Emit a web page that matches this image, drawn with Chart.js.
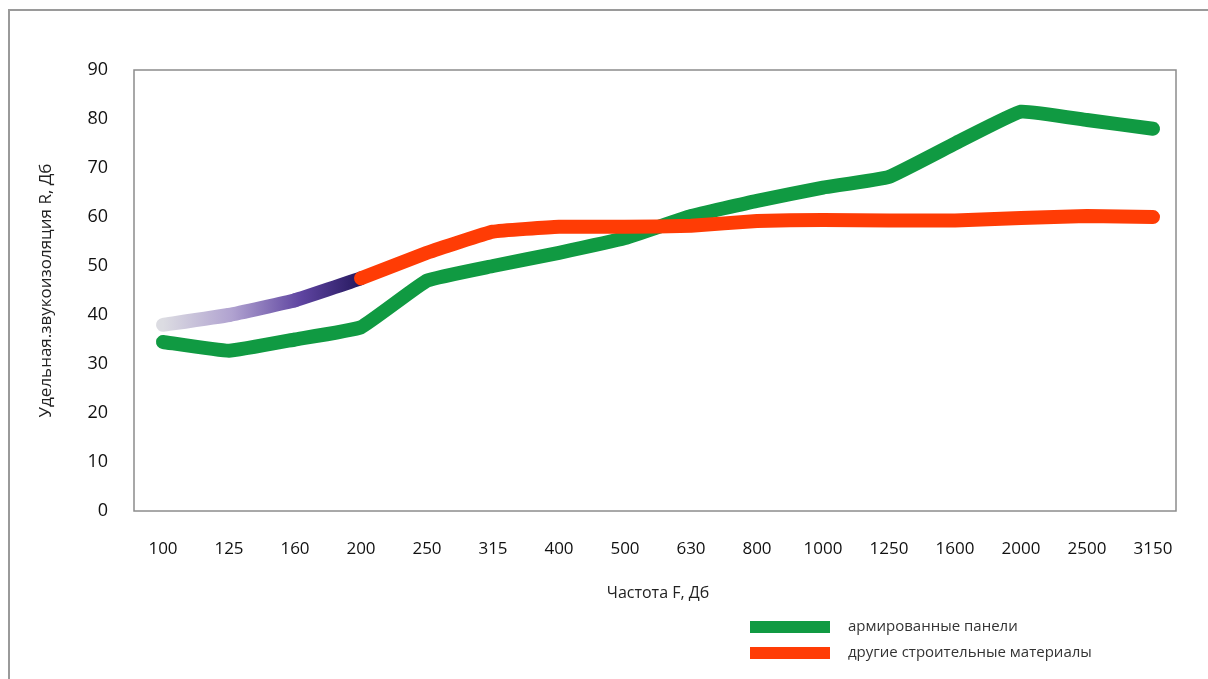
<!DOCTYPE html>
<html>
<head>
<meta charset="utf-8">
<script src="https://cdn.jsdelivr.net/npm/chart.js@4.4.1/dist/chart.umd.min.js"></script>
<style>
  html, body { margin: 0; padding: 0; background: #fff; }
  #wrap { width: 1208px; height: 679px; }
</style>
</head>
<body>
<div id="wrap"><canvas id="chart" width="1208" height="679"></canvas></div>
<script>
const frequencies = ['100', '125', '160', '200', '250', '315', '400', '500', '630', '800', '1000', '1250', '1600', '2000', '2500', '3150'];
const panels = [34.5, 32.7, 35, 37.5, 47, 50, 52.7, 55.7, 60.2, 63.3, 66, 68.2, 75, 81.5, 79.8, 78];
const others = [38, 40, 43, 47.5, 52.7, 57, 58, 58, 58.2, 59.2, 59.4, 59.3, 59.3, 59.8, 60.2, 60];
const yTicks = [0, 10, 20, 30, 40, 50, 60, 70, 80, 90];

const GREEN = '#109a42';
const RED = '#ff3c05';
const FONT = "'Open Sans', 'DejaVu Sans', sans-serif";

// fading start of the red line (100..200 Hz)
function redSegment(ctx) {
  const chart = ctx.chart;
  if (ctx.p1DataIndex > 3) return RED;
  const x = chart.scales.x;
  const g = chart.ctx.createLinearGradient(x.getPixelForValue(0), 0, x.getPixelForValue(3), 0);
  g.addColorStop(0, '#dcdce2');
  g.addColorStop(0.35, '#b0a2d0');
  g.addColorStop(0.7, '#5e44a0');
  g.addColorStop(1, '#26195f');
  return g;
}

const framePlugin = {
  id: 'frame',
  beforeDraw(chart) {
    const c = chart.ctx;
    const a = chart.chartArea;
    c.save();
    c.strokeStyle = '#9a9a9a';
    c.lineWidth = 2;
    c.beginPath();
    c.moveTo(9, 679);
    c.lineTo(9, 10);
    c.lineTo(1208, 10);
    c.stroke();
    // plot box is a little narrower than the category band
    c.lineWidth = 1.5;
    c.strokeStyle = '#8c8c8c';
    c.strokeRect(a.left + 4, a.top, a.right - a.left - 14, a.bottom - a.top);
    c.restore();
  }
};

const legendPlugin = {
  id: 'sideLegend',
  afterDraw(chart) {
    const c = chart.ctx;
    c.save();
    c.font = '15px ' + FONT;
    c.textBaseline = 'middle';
    c.fillStyle = '#333';
    chart.data.datasets.forEach((ds, i) => {
      const y = 627 + i * 26;
      c.strokeStyle = ds.legendColor;
      c.lineWidth = 12;
      c.beginPath();
      c.moveTo(750, y);
      c.lineTo(830, y);
      c.stroke();
      c.fillText(ds.label, 848, y);
    });
    c.restore();
  }
};

new Chart(document.getElementById('chart'), {
  type: 'line',
  data: {
    labels: frequencies,
    datasets: [
      {
        label: 'армированные панели',
        data: panels,
        borderColor: GREEN,
        legendColor: GREEN,
        borderWidth: 14,
        pointRadius: 0,
        tension: 0.1,
        borderCapStyle: 'round',
        borderJoinStyle: 'round',
        order: 2
      },
      {
        label: 'другие строительные материалы',
        data: others,
        borderColor: RED,
        legendColor: RED,
        segment: { borderColor: redSegment },
        borderWidth: 14,
        pointRadius: 0,
        tension: 0.1,
        borderCapStyle: 'round',
        borderJoinStyle: 'round',
        order: 1
      }
    ]
  },
  options: {
    responsive: false,
    animation: false,
    layout: { padding: { left: 0, right: 22, top: 70, bottom: 0 } },
    plugins: {
      legend: { display: false },
      tooltip: { enabled: false }
    },
    scales: {
      x: {
        offset: true,
        grid: { display: false, drawTicks: false },
        border: { display: false },
        ticks: { color: '#111', font: { family: FONT, size: 17 }, padding: 28, maxRotation: 0, autoSkip: false },
        title: { display: true, text: 'Частота F, Дб', color: '#222', font: { family: FONT, size: 16 }, padding: { top: 0, bottom: 76 } },
        afterFit(scale) { scale.height = 168; }
      },
      y: {
        min: 0,
        max: 90,
        afterBuildTicks(scale) { scale.ticks = yTicks.map(v => ({ value: v })); },
        grid: { display: false, drawTicks: false },
        border: { display: false },
        ticks: { color: '#111', font: { family: FONT, size: 18 }, padding: 22 },
        title: { display: true, text: 'Удельная.звукоизоляция R, Дб', color: '#222', font: { family: FONT, size: 17 }, padding: { top: 36, bottom: 0 } },
        afterFit(scale) { scale.width = 130; }
      }
    }
  },
  plugins: [framePlugin, legendPlugin]
});
</script>
</body>
</html>
